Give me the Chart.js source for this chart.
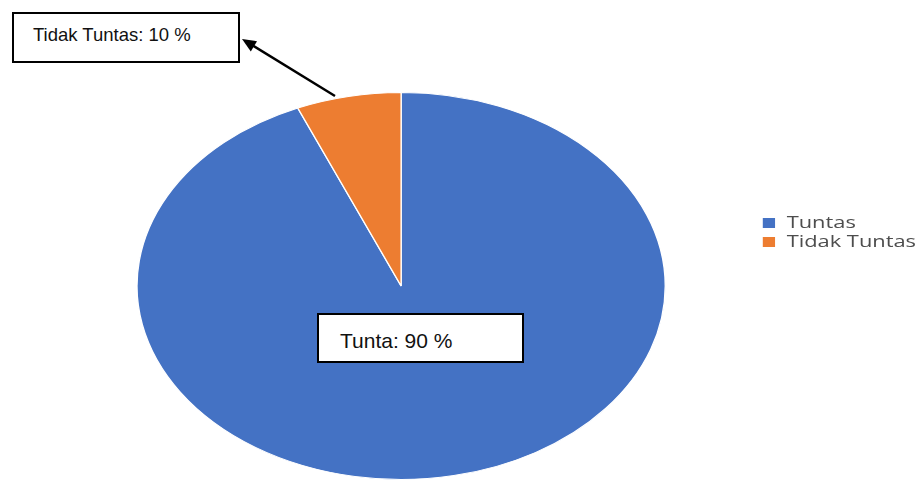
<!DOCTYPE html>
<html>
<head>
<meta charset="utf-8">
<script src="https://cdn.jsdelivr.net/npm/chart.js@4/dist/chart.umd.min.js"></script>
<style>
  html, body { margin: 0; padding: 0; background: #ffffff; }
  #wrap { position: relative; width: 917px; height: 481px; overflow: hidden; background: #fff; }
  #c { position: absolute; left: 0; top: 0; }
  .note { position: absolute; box-sizing: border-box; border: 2px solid #000; background: #fff;
          font-family: "Liberation Sans", Arial, sans-serif; color: #111; line-height: 1; white-space: nowrap; }
  #note1 { left: 12px; top: 12px; width: 228px; height: 51px; font-size: 18.5px; padding: 12px 0 0 19px; }
  #note2 { left: 317px; top: 313px; width: 207px; height: 50px; font-size: 21px; padding: 15px 0 0 21px; }
  #arrow { position: absolute; left: 0; top: 0; }
</style>
</head>
<body>
<div id="wrap">
  <canvas id="c" width="917" height="481"></canvas>
  <svg id="arrow" width="917" height="481">
    <line x1="335" y1="96" x2="252" y2="45" stroke="#000" stroke-width="2.5"/>
    <polygon points="242,39 257,41.2 250.8,51.4" fill="#000"/>
  </svg>
  <div class="note" id="note1">Tidak Tuntas: 10 %</div>
  <div class="note" id="note2">Tunta: 90 %</div>
</div>
<script>
// ---- data ----
const categories = ['Tuntas', 'Tidak Tuntas'];
const shares = [93.6, 6.4];
const sliceColors = ['#4472C4', '#ED7D31'];

// horizontal stretch of the original picture (ellipse instead of circle)
const stretchPlugin = {
  id: 'stretch',
  afterLayout(chart, args, opts) {
    const lg = chart.legend;
    const w = lg.right - lg.left, h = lg.bottom - lg.top;
    lg.left = opts.legendLeft; lg.right = lg.left + w;
    lg.top = opts.legendTop; lg.bottom = lg.top + h;
  },
  beforeDraw(chart, args, opts) {
    const ctx = chart.ctx, lg = chart.legend;
    ctx.save();
    ctx.translate(lg.left, 0);
    ctx.scale(opts.sx, 1);
    ctx.translate(-lg.left, 0);
  },
  beforeDatasetsDraw(chart, args, opts) {
    const ctx = chart.ctx;
    ctx.restore();
    const arc = chart.getDatasetMeta(0).data[0];
    ctx.save();
    ctx.translate(arc.x, arc.y);
    ctx.scale(opts.sx, 1);
    ctx.translate(-arc.x, -arc.y);
  },
  afterDatasetsDraw(chart) { chart.ctx.restore(); }
};

new Chart(document.getElementById('c'), {
  type: 'pie',
  data: {
    labels: categories,
    datasets: [{
      data: shares,
      backgroundColor: sliceColors,
      borderColor: '#ffffff',
      borderWidth: 1
    }]
  },
  options: {
    responsive: false,
    animation: false,
    devicePixelRatio: 1,
    layout: { padding: { top: 92, bottom: 1, left: 11, right: 0 } },
    plugins: {
      tooltip: { enabled: false },
      stretch: { sx: 1.365, legendLeft: 758, legendTop: 212 },
      legend: {
        position: 'right',
        align: 'start',
        labels: {
          boxWidth: 10,
          boxHeight: 11,
          padding: 3,
          color: '#4d4d4d',
          font: { family: '"Open Sans", sans-serif', size: 16 }
        }
      }
    }
  },
  plugins: [stretchPlugin]
});
</script>
</body>
</html>
